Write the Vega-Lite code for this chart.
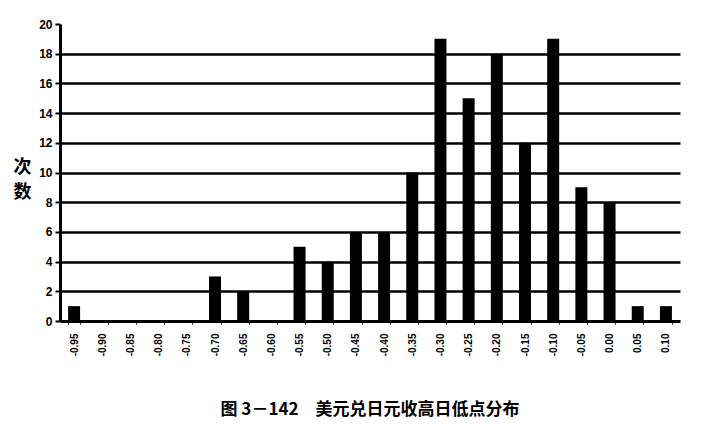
{
  "$schema": "https://vega.github.io/schema/vega-lite/v6.json",
  "autosize": "none",
  "width": 620,
  "height": 297,
  "padding": {"left": 60, "top": 24, "right": 22, "bottom": 104},
  "background": "white",
  "data": {"values": [
    {"range": "-0.95", "count": 1},
    {"range": "-0.90", "count": 0},
    {"range": "-0.85", "count": 0},
    {"range": "-0.80", "count": 0},
    {"range": "-0.75", "count": 0},
    {"range": "-0.70", "count": 3},
    {"range": "-0.65", "count": 2},
    {"range": "-0.60", "count": 0},
    {"range": "-0.55", "count": 5},
    {"range": "-0.50", "count": 4},
    {"range": "-0.45", "count": 6},
    {"range": "-0.40", "count": 6},
    {"range": "-0.35", "count": 10},
    {"range": "-0.30", "count": 19},
    {"range": "-0.25", "count": 15},
    {"range": "-0.20", "count": 18},
    {"range": "-0.15", "count": 12},
    {"range": "-0.10", "count": 19},
    {"range": "-0.05", "count": 9},
    {"range": "0.00", "count": 8},
    {"range": "0.05", "count": 1},
    {"range": "0.10", "count": 1}
  ]},
  "title": {
    "text": "图 3－142　美元兑日元收高日低点分布",
    "orient": "bottom",
    "anchor": "middle",
    "font": "Noto Sans CJK SC",
    "fontSize": 17,
    "fontWeight": "bold",
    "color": "black",
    "offset": 46
  },
  "mark": {"type": "bar", "color": "black", "size": 12},
  "encoding": {
    "x": {
      "field": "range",
      "type": "ordinal",
      "sort": null,
      "scale": {"paddingInner": 0.6, "paddingOuter": 0.3},
      "axis": {
        "title": null,
        "labelAngle": 270,
        "labelFont": "Liberation Sans",
        "labelFontWeight": "bold",
        "labelFontSize": 10,
        "labelColor": "black",
        "labelPadding": 9,
        "domainColor": "black",
        "domainWidth": 3,
        "tickColor": "black",
        "tickSize": 3,
        "tickWidth": 1,
        "tickBand": "extent"
      }
    },
    "y": {
      "field": "count",
      "type": "quantitative",
      "scale": {"domain": [0, 20], "nice": false},
      "axis": {
        "values": [0, 2, 4, 6, 8, 10, 12, 14, 16, 18, 20],
        "title": ["次", "数"],
        "titleAngle": 0,
        "titleFont": "Noto Sans CJK SC",
        "titleFontSize": 18,
        "titleFontWeight": "bold",
        "titleColor": "black",
        "titleX": -38,
        "titleY": 152,
        "titleAlign": "center",
        "titleLineHeight": 25,
        "labelFont": "Liberation Sans",
        "labelFontWeight": "bold",
        "labelFontSize": 12,
        "labelColor": "black",
        "labelPadding": 3,
        "domainColor": "black",
        "domainWidth": 3,
        "tickColor": "black",
        "tickSize": 5,
        "tickWidth": 2,
        "grid": true,
        "gridColor": "black",
        "gridWidth": 2.5,
        "gridOpacity": {"condition": {"test": "datum.value === 20 || datum.value === 0", "value": 0}, "value": 1}
      }
    }
  },
  "config": {
    "view": {"stroke": null}
  }
}
